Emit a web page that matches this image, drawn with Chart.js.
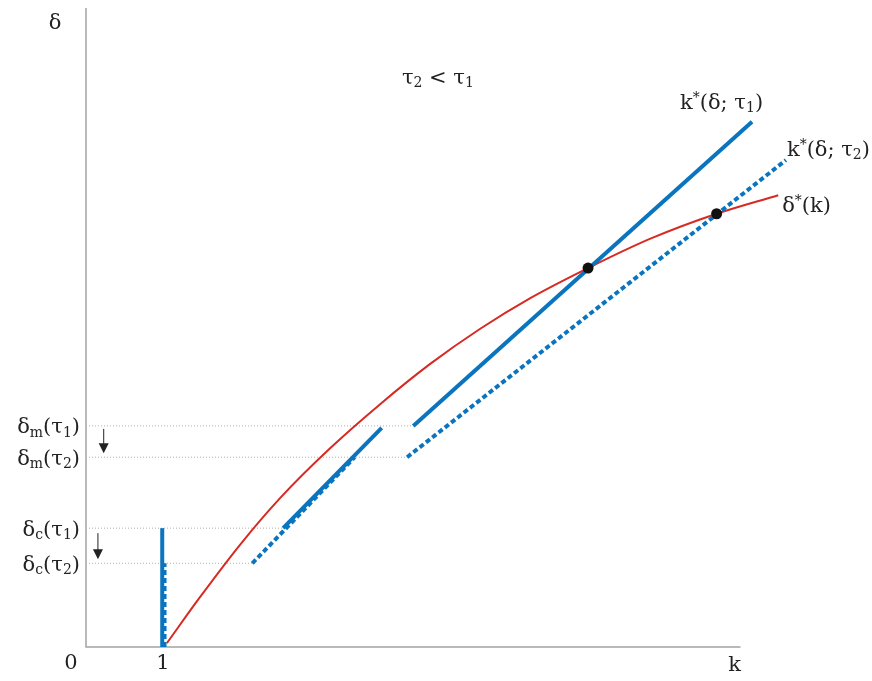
<!DOCTYPE html>
<html>
<head>
<meta charset="utf-8">
<script src="https://cdn.jsdelivr.net/npm/chart.js@4.4.0/dist/chart.umd.min.js"></script>
<style>
body { margin: 0; background: #fff; }
canvas { display: block; }
</style>
</head>
<body>
<canvas id="grafico" width="872" height="681"></canvas>
<script>
// Niveles de delta marcados en el eje vertical ('_' = subíndice, '^' = superíndice)
const nivelNombres = ['δ_m(τ_1)', 'δ_m(τ_2)', 'δ_c(τ_1)', 'δ_c(τ_2)'];
const nivelValores = [3.46, 2.97, 1.86, 1.31];
const nivelHastaK = [4.25, 4.17, 2.56, 2.16];

// Curva delta*(k)
const curvaK = [1.05, 1.48, 2.00, 2.52, 3.17, 3.82, 4.47, 5.12, 5.77, 6.52, 7.33, 8.19, 8.99];
const curvaD = [0.06, 0.78, 1.60, 2.33, 3.11, 3.80, 4.43, 4.98, 5.46, 5.93, 6.39, 6.78, 7.07];

// k*(delta; tau1) (línea sólida), por tramos
const tau1TramosK = [[0.99, 0.99], [2.56, 3.84], [4.25, 8.65]];
const tau1TramosD = [[0, 1.86], [1.86, 3.43], [3.46, 8.22]];

// k*(delta; tau2) (línea discontinua), por tramos
const tau2TramosK = [[1.02, 1.02], [2.16, 3.49], [4.17, 9.09]];
const tau2TramosD = [[0, 1.31], [1.31, 2.97], [2.97, 7.62]];

// Equilibrios
const equilibrioK = [6.52, 8.19];
const equilibrioD = [5.93, 6.78];

// Extremos de los ejes
const ejeXMax = 8.5;
const ejeYMax = 10.0;

const AZUL = '#0a74be';
const ROJO = '#d52b22';
const GRIS = '#a3a3a3';
const TEXTO = '#222';
const FUENTE = '"DejaVu Serif", serif';

function puntos(ks, ds) {
    return ks.map((k, i) => ({ x: k, y: ds[i] }));
}

const datasets = [];

datasets.push({
    label: 'equilibrios',
    data: puntos(equilibrioK, equilibrioD),
    showLine: false,
    pointRadius: 5.5,
    pointBackgroundColor: '#111',
    pointBorderWidth: 0,
    order: 0
});

tau1TramosK.forEach((ks, i) => {
    datasets.push({
        label: 'k*(δ;τ1)',
        data: puntos(ks, tau1TramosD[i]),
        showLine: true,
        borderColor: AZUL,
        borderWidth: 4,
        pointRadius: 0,
        order: 1
    });
});

tau2TramosK.forEach((ks, i) => {
    datasets.push({
        label: 'k*(δ;τ2)',
        data: puntos(ks, tau2TramosD[i]),
        showLine: true,
        borderColor: AZUL,
        borderWidth: 4,
        borderDash: [5, 3],
        pointRadius: 0,
        order: 1
    });
});

datasets.push({
    label: 'δ*(k)',
    data: puntos(curvaK, curvaD),
    showLine: true,
    borderColor: ROJO,
    borderWidth: 2,
    cubicInterpolationMode: 'monotone',
    pointRadius: 0,
    order: 2
});

// líneas punteadas de referencia
nivelValores.forEach((d, i) => {
    datasets.push({
        label: 'nivel',
        data: [{ x: 0, y: d }, { x: nivelHastaK[i], y: d }],
        showLine: true,
        borderColor: '#b0b0b0',
        borderWidth: 1,
        borderDash: [1, 2],
        pointRadius: 0,
        order: 3
    });
});

// ejes
datasets.push({
    label: 'ejes',
    data: [{ x: 0, y: ejeYMax }, { x: 0, y: 0 }, { x: ejeXMax, y: 0 }],
    showLine: true,
    borderColor: GRIS,
    borderWidth: 1.5,
    pointRadius: 0,
    order: 4
});

// Dibuja texto con subíndices/superíndices simples
function textoRico(ctx, str, x, y, align) {
    const base = 21, peq = 14;
    const partes = [];
    for (let i = 0; i < str.length; i++) {
        const c = str[i];
        if ((c === '_' || c === '^') && i + 1 < str.length) {
            partes.push({ t: str[i + 1], modo: c });
            i++;
        } else {
            partes.push({ t: c, modo: '' });
        }
    }
    let ancho = 0;
    partes.forEach(p => {
        ctx.font = (p.modo ? peq : base) + 'px ' + FUENTE;
        p.w = ctx.measureText(p.t).width;
        ancho += p.w;
    });
    let cx = x;
    if (align === 'center') cx = x - ancho / 2;
    if (align === 'right') cx = x - ancho;
    ctx.textBaseline = 'middle';
    ctx.textAlign = 'left';
    partes.forEach(p => {
        ctx.font = (p.modo ? peq : base) + 'px ' + FUENTE;
        let dy = 0;
        if (p.modo === '_') dy = 5;
        if (p.modo === '^') dy = -5;
        ctx.fillText(p.t, cx, y + dy);
        cx += p.w;
    });
}

function flecha(ctx, x, y1, y2) {
    ctx.strokeStyle = '#222';
    ctx.fillStyle = '#222';
    ctx.lineWidth = 1;
    ctx.beginPath();
    ctx.moveTo(x, y1);
    ctx.lineTo(x, y2 - 8);
    ctx.stroke();
    ctx.beginPath();
    ctx.moveTo(x - 5, y2 - 10);
    ctx.lineTo(x + 5, y2 - 10);
    ctx.lineTo(x, y2);
    ctx.closePath();
    ctx.fill();
}

const etiquetas = {
    id: 'etiquetas',
    afterDatasetsDraw(chart) {
        const ctx = chart.ctx;
        const xs = chart.scales.x, ys = chart.scales.y;
        const px = v => xs.getPixelForValue(v);
        const py = v => ys.getPixelForValue(v);
        ctx.save();
        ctx.fillStyle = TEXTO;

        // etiquetas del eje vertical
        nivelNombres.forEach((n, i) => {
            textoRico(ctx, n, px(0) - 6, py(nivelValores[i]) + 2, 'right');
        });
        textoRico(ctx, 'δ', px(0) - 31, py(ejeYMax) + 16, 'center');

        // etiquetas del eje horizontal
        textoRico(ctx, '0', px(0) - 15, py(0) + 17, 'center');
        textoRico(ctx, '1', px(1), py(0) + 17, 'center');
        textoRico(ctx, 'k', px(ejeXMax) - 6, py(0) + 19, 'center');

        // nombres de las curvas
        textoRico(ctx, 'k^*(δ; τ_1)', px(8.65) - 72, py(8.22) - 18, 'left');
        textoRico(ctx, 'k^*(δ; τ_2)', px(9.09) + 1, py(7.62) - 10, 'left');
        textoRico(ctx, 'δ^*(k)', px(8.99) + 4, py(7.07) + 11, 'left');
        textoRico(ctx, 'τ_2 < τ_1', px(4.57), py(8.90), 'center');

        // flechas de desplazamiento
        flecha(ctx, px(0.23), py(nivelValores[0]) + 3, py(nivelValores[1]) - 4);
        flecha(ctx, px(0.155), py(nivelValores[2]) + 5, py(nivelValores[3]) - 4);
        ctx.restore();
    }
};

const ctx = document.getElementById('grafico').getContext('2d');
new Chart(ctx, {
    type: 'scatter',
    data: { datasets: datasets },
    options: {
        responsive: false,
        animation: false,
        layout: { padding: 0, autoPadding: false },
        scales: {
            x: { type: 'linear', display: false, min: -86 / 77, max: (872 - 86) / 77 },
            y: { type: 'linear', display: false, min: -34 / 63.9, max: 647 / 63.9 }
        },
        plugins: {
            legend: { display: false },
            tooltip: { enabled: false }
        }
    },
    plugins: [etiquetas]
});
</script>
</body>
</html>
